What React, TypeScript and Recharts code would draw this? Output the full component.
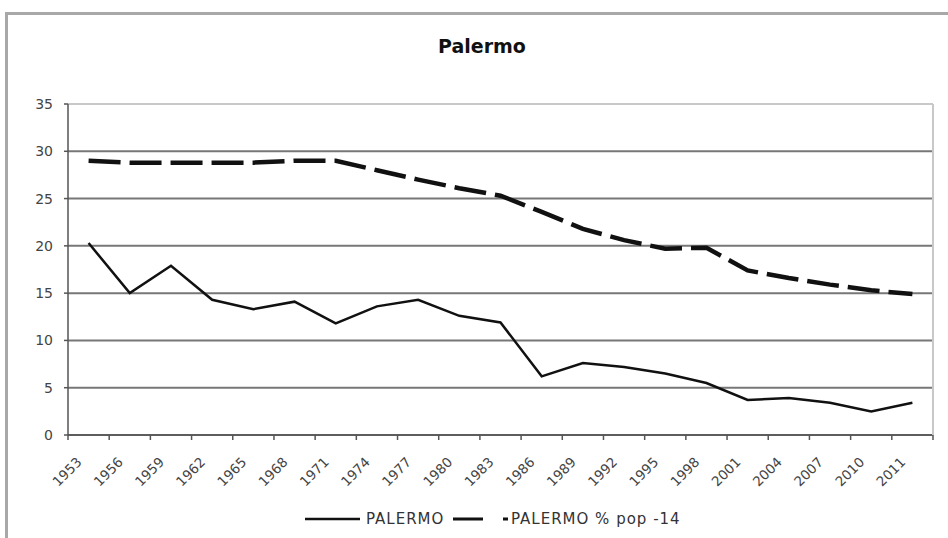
import { CartesianGrid, Line, LineChart, ReferenceLine, XAxis, YAxis } from "recharts";

const years = [
  "1953", "1956", "1959", "1962", "1965", "1968", "1971", "1974", "1977", "1980", "1983",
  "1986", "1989", "1992", "1995", "1998", "2001", "2004", "2007", "2010", "2011",
];

// PALERMO (solid line)
const palermo = [
  20.3, 15.0, 17.9, 14.3, 13.3, 14.1, 11.8, 13.6, 14.3, 12.6, 11.9,
  6.2, 7.6, 7.2, 6.5, 5.5, 3.7, 3.9, 3.4, 2.5, 3.4,
];

// PALERMO % pop -14 (dashed line)
const palermoPop14 = [
  29.0, 28.8, 28.8, 28.8, 28.8, 29.0, 29.0, 28.0, 27.0, 26.1, 25.3,
  23.6, 21.8, 20.6, 19.7, 19.8, 17.4, 16.6, 15.9, 15.3, 14.9,
];

const yTicks = [0, 5, 10, 15, 20, 25, 30, 35];

const data = years.map((year, i) => ({
  year,
  palermo: palermo[i],
  pop14: palermoPop14[i],
}));

const W = 948;
const H = 538;
const LEFT = 68;
const RIGHT = 15;
const PLOT_W = W - LEFT - RIGHT;
const FONT = "'DejaVu Sans', Verdana, sans-serif";

type TickProps = {
  x?: number;
  y?: number;
  index?: number;
  payload?: { value: string; offset?: number };
};

function YearTick({ x = 0, y = 0, index = 0, payload }: TickProps) {
  const half = payload?.offset || PLOT_W / years.length / 2;
  const lx = x - 6;
  const ly = y + 28;
  return (
    <g>
      <line x1={x - half} y1={y} x2={x - half} y2={y + 5} stroke="#555" strokeWidth={1.5} />
      {index === years.length - 1 && (
        <line x1={x + half} y1={y} x2={x + half} y2={y + 5} stroke="#555" strokeWidth={1.5} />
      )}
      <text
        x={lx}
        y={ly}
        transform={`rotate(-45, ${lx}, ${ly})`}
        textAnchor="end"
        fontSize={13.5}
        fontFamily={FONT}
        fill="#444"
      >
        {payload?.value}
      </text>
    </g>
  );
}

const legendText = {
  position: "absolute" as const,
  top: 510,
  fontSize: 15,
  letterSpacing: 1,
  color: "#333",
  whiteSpace: "nowrap" as const,
};

export default function App() {
  return (
    <div
      style={{
        position: "absolute",
        left: 0,
        top: 0,
        width: W,
        height: H,
        background: "#fff",
        overflow: "hidden",
        fontFamily: FONT,
      }}
    >
      <div
        style={{
          position: "absolute",
          left: 5,
          top: 12,
          width: W,
          height: H,
          borderTop: "3px solid #a8a8a8",
          borderLeft: "3px solid #a8a8a8",
        }}
      />
      <div
        style={{
          position: "absolute",
          left: 0,
          top: 35,
          width: 964,
          textAlign: "center",
          fontWeight: "bold",
          fontSize: 19,
          color: "#111",
        }}
      >
        Palermo
      </div>
      <div style={{ position: "absolute", left: 0, top: 0 }}>
        <LineChart width={W} height={H} data={data} margin={{ top: 104, right: 0, bottom: 23, left: 0 }}>
          <CartesianGrid vertical={false} stroke="#777" strokeWidth={2} yAxisId="left" />
          <XAxis
            dataKey="year"
            type="category"
            scale="band"
            interval={0}
            height={80}
            tickSize={0}
            tickMargin={0}
            tickLine={false}
            axisLine={{ stroke: "#555", strokeWidth: 1.5 }}
            tick={<YearTick />}
          />
          <YAxis
            yAxisId="left"
            domain={[0, 35]}
            ticks={yTicks}
            width={LEFT}
            tickSize={4}
            tickMargin={11}
            axisLine={{ stroke: "#555", strokeWidth: 1.5 }}
            tickLine={{ stroke: "#555", strokeWidth: 1.5 }}
            tick={{ fontSize: 14, fill: "#444", fontFamily: FONT }}
            interval={0}
          />
          <YAxis
            yAxisId="right"
            orientation="right"
            domain={[0, 35]}
            width={RIGHT}
            tick={false}
            tickLine={false}
            axisLine={{ stroke: "#c8c8c8", strokeWidth: 2 }}
          />
          <ReferenceLine yAxisId="left" y={35} stroke="#c8c8c8" strokeWidth={2} />
          <Line
            yAxisId="left"
            type="linear"
            dataKey="pop14"
            stroke="#111"
            strokeWidth={4.5}
            strokeDasharray="32 9"
            dot={false}
            isAnimationActive={false}
          />
          <Line
            yAxisId="left"
            type="linear"
            dataKey="palermo"
            stroke="#111"
            strokeWidth={2.5}
            dot={false}
            isAnimationActive={false}
          />
        </LineChart>
      </div>
      <svg style={{ position: "absolute", left: 305, top: 510 }} width={205} height={18}>
        <line x1={0} y1={9} x2={55} y2={9} stroke="#111" strokeWidth={2.5} />
        <line x1={148} y1={9} x2={203} y2={9} stroke="#111" strokeWidth={3} strokeDasharray="30 20" />
      </svg>
      <span style={{ ...legendText, left: 366 }}>PALERMO</span>
      <span style={{ ...legendText, left: 511 }}>PALERMO % pop -14</span>
    </div>
  );
}
